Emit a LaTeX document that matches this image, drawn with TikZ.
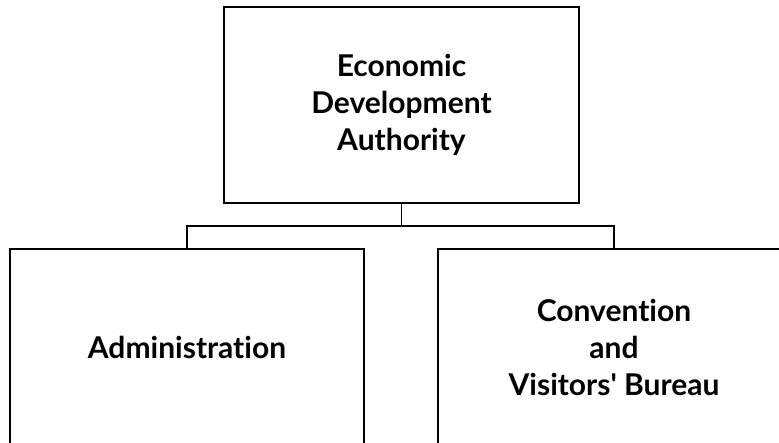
\documentclass[tikz,border=0pt]{standalone}
\usepackage{fontspec}
\setmainfont[Ligatures={NoCommon}]{Lato}
\begin{document}
\begin{tikzpicture}[x=1pt,y=-1pt,
  orgbox/.style={draw=black,line width=1.5pt,rectangle,minimum height=196pt,
    align=center,inner sep=0pt,font=\fontsize{30}{37}\selectfont\bfseries},
  conn/.style={draw=black,line width=1.5pt}]
\useasboundingbox (0,0) rectangle (779,442);
\clip (0,0) rectangle (779,442);
\node[orgbox,minimum width=355pt] (top) at (401.5,105) {Economic\\Development\\Authority};
\node[orgbox,minimum width=354pt] (left) at (187,347) {Administration};
\node[orgbox,minimum width=352pt] (right) at (614,347) {Convention\\and\\Visitors\textquotesingle{} Bureau};
\coordinate (bus) at (401.5,226);
\draw[conn] (top.south) -- (bus) -| (left.north);
\draw[conn] (bus) -| (right.north);
\end{tikzpicture}
\end{document}
